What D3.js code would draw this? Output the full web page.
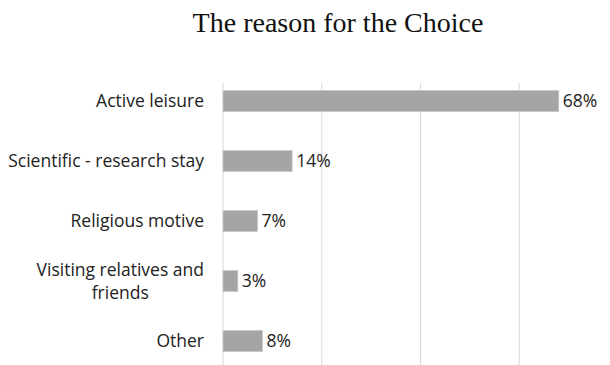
<!DOCTYPE html>
<html>
<head>
<meta charset="utf-8">
<script src="https://cdn.jsdelivr.net/npm/d3@7"></script>
<style>
  body { margin: 0; background: #fff; }
</style>
</head>
<body>
<div id="chart"></div>
<script>
// chart data
const categories = ["Active leisure", "Scientific - research stay", "Religious motive", "Visiting relatives and friends", "Other"];
const values = [68, 14, 7, 3, 8];
const valueLabels = ["68%", "14%", "7%", "3%", "8%"];
const gridTicks = [0, 20, 40, 60, 80];

const width = 610, height = 365;
const labelFont = "'Open Sans', sans-serif";
const svg = d3.select("#chart").append("svg")
    .attr("width", width)
    .attr("height", height)
    .style("background-color", "white");

svg.append("text")
    .attr("x", 338)
    .attr("y", 32)
    .attr("text-anchor", "middle")
    .style("font-family", "'Liberation Serif', 'Times New Roman', serif")
    .style("font-size", "28px")
    .style("fill", "#111")
    .text("The reason for the Choice");

const x = d3.scaleLinear().domain([0, 80]).range([223, 618]);
const y = d3.scaleBand().domain(categories).range([71, 371]).paddingInner(0.65).paddingOuter(0.325);

// vertical gridlines
svg.append("g").selectAll("line")
    .data(gridTicks)
    .join("line")
    .attr("x1", d => x(d)).attr("x2", d => x(d))
    .attr("y1", 83).attr("y2", height)
    .style("stroke", "#d9d9d9")
    .style("stroke-width", 1);

// bars
svg.append("g").selectAll("rect")
    .data(categories)
    .join("rect")
    .attr("x", x(0))
    .attr("y", d => y(d))
    .attr("width", (d, i) => x(values[i]) - x(0))
    .attr("height", y.bandwidth())
    .style("fill", "#a5a5a5")
    .style("stroke", "#c8c8c8")
    .style("stroke-width", 0.8);

// value labels
svg.append("g").selectAll("text")
    .data(categories)
    .join("text")
    .attr("x", (d, i) => x(values[i]) + 4)
    .attr("y", d => y(d) + y.bandwidth() / 2)
    .attr("dy", "0.35em")
    .style("font-family", labelFont)
    .style("font-size", "17.5px")
    .style("fill", "#222")
    .text((d, i) => valueLabels[i]);

// category labels, long one wraps on two lines
const labelX = 204;
const cat = svg.append("g").selectAll("text")
    .data(categories)
    .join("text")
    .attr("y", d => y(d) + y.bandwidth() / 2)
    .style("font-family", labelFont)
    .style("font-size", "17.5px")
    .style("fill", "#222");

cat.each(function(d) {
    const t = d3.select(this);
    if (d === "Visiting relatives and friends") {
        const lines = ["Visiting relatives and", "friends"];
        t.attr("text-anchor", "middle");
        // centre the block on the first line's width
        const tmp = t.append("tspan").text(lines[0]);
        const w = tmp.node().getComputedTextLength();
        tmp.remove();
        const cx = labelX - w / 2;
        lines.forEach((l, i) => {
            t.append("tspan")
                .attr("x", cx)
                .attr("dy", i === 0 ? "-0.29em" : "1.31em")
                .text(l);
        });
    } else {
        t.attr("x", labelX)
            .attr("text-anchor", "end")
            .attr("dy", "0.35em")
            .text(d);
    }
});
</script>
</body>
</html>
